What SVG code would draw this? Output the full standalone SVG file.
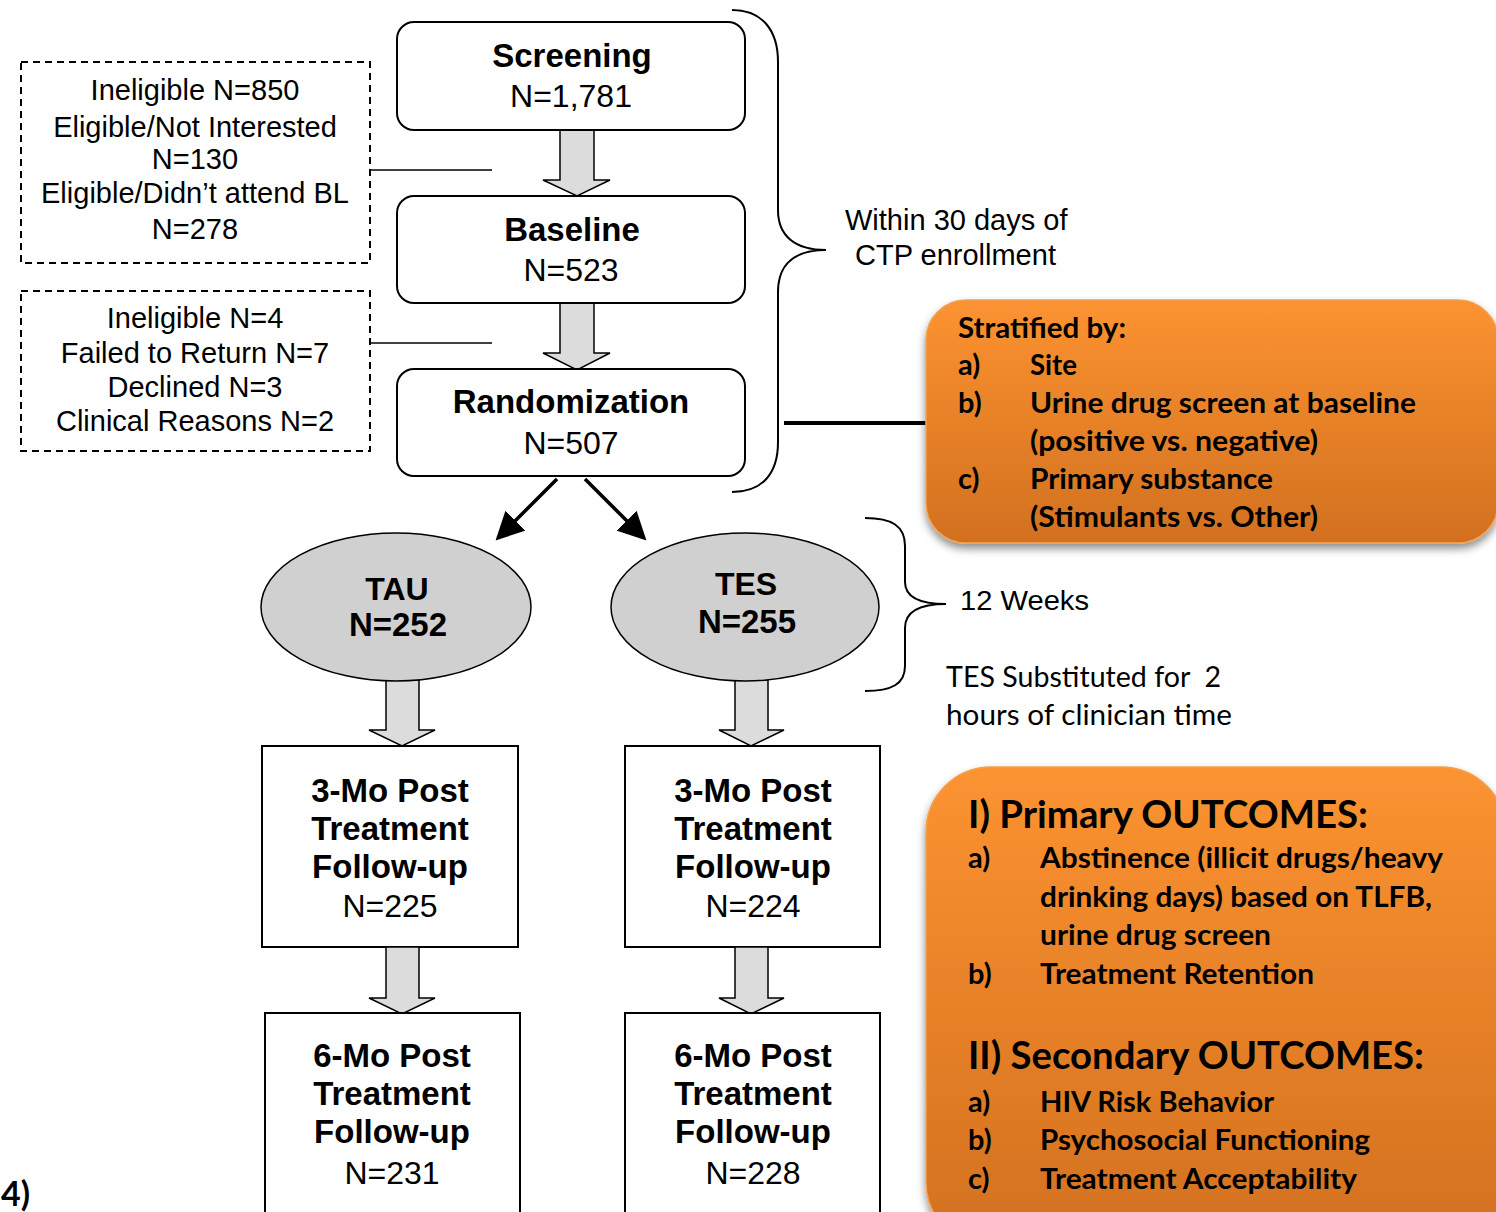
<svg xmlns="http://www.w3.org/2000/svg" width="1496" height="1212" viewBox="0 0 1496 1212">
<style>
.box{fill:#fff;stroke:#000;stroke-width:2}
.dash{fill:#fff;stroke:#000;stroke-width:2;stroke-dasharray:7,5}
.ell{fill:#d0d0d0;stroke:#000;stroke-width:1.5}
.garrow{fill:#dcdcdc;stroke:#000;stroke-width:1.5;stroke-linejoin:miter}
.ln{fill:none;stroke:#000;stroke-width:1.5}
.br{fill:none;stroke:#000;stroke-width:2}
.t{font-family:"Liberation Sans",Arial,sans-serif;fill:#000;text-anchor:middle}
.tb{font-family:"Liberation Sans",Arial,sans-serif;font-weight:bold;fill:#000;text-anchor:middle}
.c{font-family:Lato,"Open Sans",sans-serif;font-weight:bold;fill:#000}
.cr{font-family:Lato,"Open Sans",sans-serif;fill:#000}
.org{stroke:#f3a050;stroke-width:1.5}
</style>
<defs>
<linearGradient id="g1" x1="0" y1="0" x2="0" y2="1">
<stop offset="0" stop-color="#fc9331"/>
<stop offset="1" stop-color="#d2701f"/>
</linearGradient>
<linearGradient id="g2" x1="0" y1="0" x2="0" y2="1">
<stop offset="0" stop-color="#fc9331"/>
<stop offset="1" stop-color="#d2701f"/>
</linearGradient>
<filter id="sh" x="-10%" y="-10%" width="120%" height="125%">
<feDropShadow dx="0" dy="5" stdDeviation="4" flood-color="#000" flood-opacity="0.45"/>
</filter>
<marker id="ah" markerWidth="8" markerHeight="8" refX="7" refY="4" orient="auto" markerUnits="strokeWidth">
<path d="M0,0 L8,4 L0,8 z" fill="#000"/>
</marker>
</defs>

<g id="connectors">
<line class="ln" x1="370" y1="170" x2="492" y2="170"/>
<line class="ln" x1="370" y1="343" x2="492" y2="343"/>
<polygon class="garrow" points="560,130 594,130 594,180 610,180 577,196 543,180 560,180"/>
<polygon class="garrow" points="560,303 594,303 594,353 610,353 577,370 543,353 560,353"/>
<line x1="557" y1="479" x2="498" y2="538" stroke="#000" stroke-width="3.5" marker-end="url(#ah)"/>
<line x1="585" y1="479" x2="644" y2="538" stroke="#000" stroke-width="3.5" marker-end="url(#ah)"/>
<line x1="784" y1="423" x2="927" y2="423" stroke="#000" stroke-width="4"/>
<path class="br" d="M732,10 C762,10 778,30 778,62 L778,210 C778,236 795,250 826,250 C795,250 778,264 778,292 L778,442 C778,474 762,492 732,492"/>
<path class="br" d="M865,518 C892,518 905,526 905,546 L905,582 C905,598 920,604 946,604 C920,604 905,611 905,628 L905,666 C905,684 892,691 865,691"/>
</g>

<g id="excl1">
<rect class="dash" x="21" y="62" width="349" height="201"/>
<text class="t" font-size="29" x="195" y="100">Ineligible N=850</text>
<text class="t" font-size="29" x="195" y="137">Eligible/Not Interested</text>
<text class="t" font-size="29" x="195" y="169">N=130</text>
<text class="t" font-size="29" x="195" y="203">Eligible/Didn’t attend BL</text>
<text class="t" font-size="29" x="195" y="239">N=278</text>
</g>

<g id="excl2">
<rect class="dash" x="21" y="291" width="349" height="160"/>
<text class="t" font-size="29" x="195" y="328">Ineligible N=4</text>
<text class="t" font-size="29" x="195" y="363">Failed to Return N=7</text>
<text class="t" font-size="29" x="195" y="397">Declined N=3</text>
<text class="t" font-size="29" x="195" y="431">Clinical Reasons N=2</text>
</g>

<g id="screening">
<rect class="box" x="397" y="22" width="348" height="108" rx="17"/>
<text class="tb" font-size="33" x="572" y="67">Screening</text>
<text class="t" font-size="32" x="571" y="107">N=1,781</text>
</g>

<g id="baseline">
<rect class="box" x="397" y="196" width="348" height="107" rx="17"/>
<text class="tb" font-size="33" x="572" y="241">Baseline</text>
<text class="t" font-size="32" x="571" y="281">N=523</text>
</g>

<g id="randomization">
<rect class="box" x="397" y="369" width="348" height="107" rx="17"/>
<text class="tb" font-size="33" x="571" y="413">Randomization</text>
<text class="t" font-size="32" x="571" y="454">N=507</text>
</g>

<g id="within">
<text class="t" font-size="29" x="845" y="230" style="text-anchor:start">Within 30 days of</text>
<text class="t" font-size="29" x="855" y="265" style="text-anchor:start">CTP enrollment</text>
</g>

<g id="stratified">
<rect x="926" y="300" width="572" height="243" rx="40" fill="url(#g1)" class="org" filter="url(#sh)"/>
<text class="c" font-size="29" x="958" y="338" textLength="168" lengthAdjust="spacingAndGlyphs">Stratified by:</text>
<text class="c" font-size="29" x="958" y="375">a)</text>
<text class="c" font-size="29" x="1030" y="375" textLength="47" lengthAdjust="spacingAndGlyphs">Site</text>
<text class="c" font-size="29" x="958" y="413">b)</text>
<text class="c" font-size="29" x="1030" y="413" textLength="386" lengthAdjust="spacingAndGlyphs">Urine drug screen at baseline</text>
<text class="c" font-size="29" x="1030" y="451" textLength="288" lengthAdjust="spacingAndGlyphs">(positive vs. negative)</text>
<text class="c" font-size="29" x="958" y="489">c)</text>
<text class="c" font-size="29" x="1030" y="489" textLength="243" lengthAdjust="spacingAndGlyphs">Primary substance</text>
<text class="c" font-size="29" x="1030" y="527" textLength="288" lengthAdjust="spacingAndGlyphs">(Stimulants vs. Other)</text>
</g>

<g id="tau">
<polygon class="garrow" points="386,680 419,680 419,730 435,730 402,746 369,730 386,730"/>
<ellipse class="ell" cx="396" cy="607" rx="135" ry="74"/>
<text class="tb" font-size="32" x="397" y="600">TAU</text>
<text class="tb" font-size="33" x="398" y="636">N=252</text>
</g>

<g id="tes">
<polygon class="garrow" points="735,680 768,680 768,730 784,730 751,746 719,730 735,730"/>
<ellipse class="ell" cx="745" cy="607" rx="134" ry="74"/>
<text class="tb" font-size="32" x="746" y="595">TES</text>
<text class="tb" font-size="33" x="747" y="633">N=255</text>
</g>

<g id="weeks">
<text class="t" font-size="28" x="960" y="610" style="text-anchor:start" textLength="129" lengthAdjust="spacingAndGlyphs">12 Weeks</text>
<text class="cr" font-size="29" x="946" y="687" style="white-space:pre" textLength="275" lengthAdjust="spacingAndGlyphs">TES Substituted for  2</text>
<text class="cr" font-size="29" x="946" y="725" textLength="286" lengthAdjust="spacingAndGlyphs">hours of clinician time</text>
</g>

<g id="tau3">
<rect class="box" x="262" y="746" width="256" height="201"/>
<text class="tb" font-size="33" x="390" y="802">3-Mo Post</text>
<text class="tb" font-size="33" x="390" y="840">Treatment</text>
<text class="tb" font-size="33" x="390" y="878">Follow-up</text>
<text class="t" font-size="32" x="390" y="917">N=225</text>
</g>

<g id="tes3">
<rect class="box" x="625" y="746" width="255" height="201"/>
<text class="tb" font-size="33" x="753" y="802">3-Mo Post</text>
<text class="tb" font-size="33" x="753" y="840">Treatment</text>
<text class="tb" font-size="33" x="753" y="878">Follow-up</text>
<text class="t" font-size="32" x="753" y="917">N=224</text>
</g>

<g id="arrows2">
<polygon class="garrow" points="386,947 419,947 419,998 435,998 402,1014 369,998 386,998"/>
<polygon class="garrow" points="735,947 768,947 768,998 784,998 751,1014 719,998 735,998"/>
</g>

<g id="tau6">
<rect class="box" x="265" y="1013" width="255" height="220"/>
<text class="tb" font-size="33" x="392" y="1067">6-Mo Post</text>
<text class="tb" font-size="33" x="392" y="1105">Treatment</text>
<text class="tb" font-size="33" x="392" y="1143">Follow-up</text>
<text class="t" font-size="32" x="392" y="1184">N=231</text>
</g>

<g id="tes6">
<rect class="box" x="625" y="1013" width="255" height="220"/>
<text class="tb" font-size="33" x="753" y="1067">6-Mo Post</text>
<text class="tb" font-size="33" x="753" y="1105">Treatment</text>
<text class="tb" font-size="33" x="753" y="1143">Follow-up</text>
<text class="t" font-size="32" x="753" y="1184">N=228</text>
</g>

<g id="outcomes">
<rect x="926" y="767" width="580" height="480" rx="65" fill="url(#g2)" class="org" filter="url(#sh)"/>
<text class="c" font-size="38" x="968" y="828" textLength="400" lengthAdjust="spacingAndGlyphs">I) Primary OUTCOMES:</text>
<text class="c" font-size="29" x="968" y="868">a)</text>
<text class="c" font-size="29" x="1040" y="868" textLength="403" lengthAdjust="spacingAndGlyphs">Abstinence (illicit drugs/heavy</text>
<text class="c" font-size="29" x="1040" y="907" textLength="392" lengthAdjust="spacingAndGlyphs">drinking days) based on TLFB,</text>
<text class="c" font-size="29" x="1040" y="945" textLength="231" lengthAdjust="spacingAndGlyphs">urine drug screen</text>
<text class="c" font-size="29" x="968" y="984">b)</text>
<text class="c" font-size="29" x="1040" y="984" textLength="274" lengthAdjust="spacingAndGlyphs">Treatment Retention</text>
<text class="c" font-size="38" x="968" y="1069" textLength="456" lengthAdjust="spacingAndGlyphs">II) Secondary OUTCOMES:</text>
<text class="c" font-size="29" x="968" y="1112">a)</text>
<text class="c" font-size="29" x="1040" y="1112" textLength="234" lengthAdjust="spacingAndGlyphs">HIV Risk Behavior</text>
<text class="c" font-size="29" x="968" y="1150">b)</text>
<text class="c" font-size="29" x="1040" y="1150" textLength="330" lengthAdjust="spacingAndGlyphs">Psychosocial Functioning</text>
<text class="c" font-size="29" x="968" y="1189">c)</text>
<text class="c" font-size="29" x="1040" y="1189" textLength="317" lengthAdjust="spacingAndGlyphs">Treatment Acceptability</text>
</g>

<text class="c" font-size="34" x="1" y="1206">4)</text>
</svg>
